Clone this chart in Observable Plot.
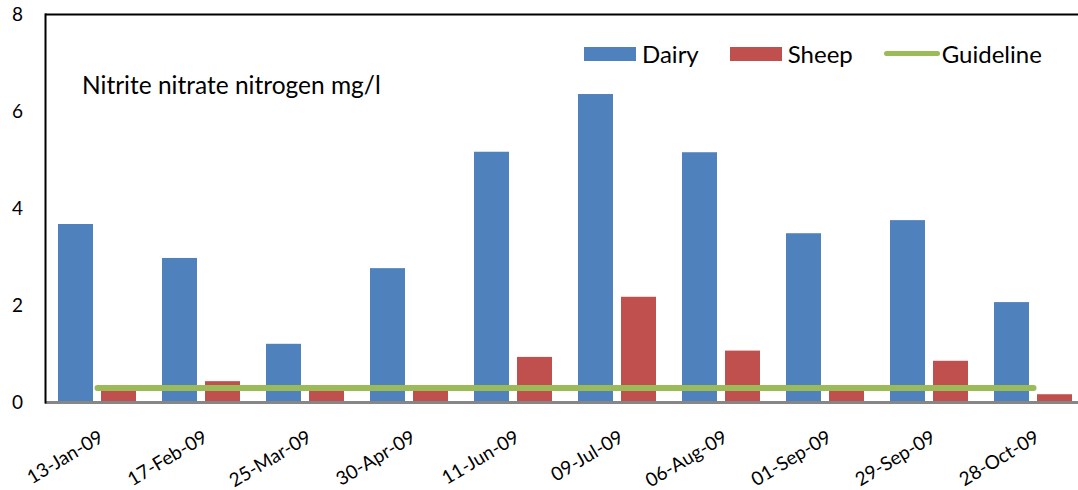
<!DOCTYPE html>
<html>
<head>
<meta charset="utf-8">
<script src="https://cdn.jsdelivr.net/npm/d3@7"></script>
<script src="https://cdn.jsdelivr.net/npm/@observablehq/plot@0.6"></script>
<style>
  html, body { margin: 0; padding: 0; background: #fff; }
  #wrap { position: relative; width: 1078px; height: 490px; font-family: Lato, "Open Sans", sans-serif; }
  #title { position: absolute; left: 82px; top: 70px; font-size: 24.5px; color: #000; white-space: nowrap; }
  #legend { position: absolute; left: 584px; top: 39px; font-size: 24px; color: #000; display: flex; align-items: center; white-space: nowrap; }
  .sw { display: inline-block; width: 52px; height: 14px; margin-right: 6px; }
  .ln { display: inline-block; width: 56px; height: 5px; border-radius: 3px; margin-right: 2px; }
  .item { display: flex; align-items: center; margin-right: 31px; }
</style>
</head>
<body>
<div id="wrap">
  <div id="chart"></div>
  <div id="title">Nitrite nitrate nitrogen mg/l</div>
  <div id="legend"></div>
</div>
<script>
const dates = ["13-Jan-09","17-Feb-09","25-Mar-09","30-Apr-09","11-Jun-09","09-Jul-09","06-Aug-09","01-Sep-09","29-Sep-09","28-Oct-09"];
const dairy = [3.67, 2.97, 1.2, 2.76, 5.16, 6.35, 5.15, 3.48, 3.75, 2.06];
const sheep = [0.25, 0.43, 0.23, 0.23, 0.93, 2.17, 1.06, 0.29, 0.85, 0.16];
const guideline = [0.3, 0.3, 0.3, 0.3, 0.3, 0.3, 0.3, 0.3, 0.3, 0.3];
const yTicks = [0, 2, 4, 6, 8];
const seriesNames = ["Dairy", "Sheep", "Guideline"];
const colors = {Dairy: "#4F81BD", Sheep: "#C0504D", Guideline: "#9BBB59"};

const dairyData = dates.map((d, i) => ({date: d, value: dairy[i]}));
const sheepData = dates.map((d, i) => ({date: d, value: sheep[i]}));
const guideData = dates.map((d, i) => ({date: d, value: guideline[i]}));

const chart = Plot.plot({
  width: 1078,
  height: 490,
  marginTop: 14,
  marginBottom: 88,
  marginLeft: 45,
  marginRight: 0,
  style: {fontFamily: "Lato, 'Open Sans', sans-serif", background: "#fff"},
  x: {domain: dates, range: [45, 1085], paddingInner: 0.25, paddingOuter: 0.125, label: null},
  y: {domain: [0, 8], label: null},
  marks: [
    Plot.barY(dairyData, {x: "date", y: "value", fill: colors.Dairy, insetRight: 43, insetLeft: 0}),
    Plot.barY(sheepData, {x: "date", y: "value", fill: colors.Sheep, insetLeft: 43, insetRight: 0}),
    Plot.lineY(guideData, {x: "date", y: "value", stroke: colors.Guideline, strokeWidth: 6, strokeLinecap: "round"}),
    Plot.ruleY([0], {stroke: "#868686", strokeWidth: 3}),
    Plot.ruleY([8], {stroke: "#000", strokeWidth: 2}),
    Plot.frame({anchor: "left", stroke: "#000", strokeWidth: 2}),
    Plot.axisY({ticks: yTicks, tickSize: 0, tickPadding: 22, fontSize: 19, tickFormat: d => d, textAnchor: "middle", dx: -6, label: null}),
    Plot.axisX({tickSize: 0, tickRotate: -31, tickPadding: 33, fontSize: 19, dx: 4, label: null})
  ]
});
document.getElementById("chart").appendChild(chart);

const legend = document.getElementById("legend");
seriesNames.forEach((name) => {
  const item = document.createElement("div");
  item.className = "item";
  const sw = document.createElement("span");
  sw.className = name === "Guideline" ? "ln" : "sw";
  sw.style.background = colors[name];
  item.appendChild(sw);
  item.appendChild(document.createTextNode(name));
  legend.appendChild(item);
});
</script>
</body>
</html>
